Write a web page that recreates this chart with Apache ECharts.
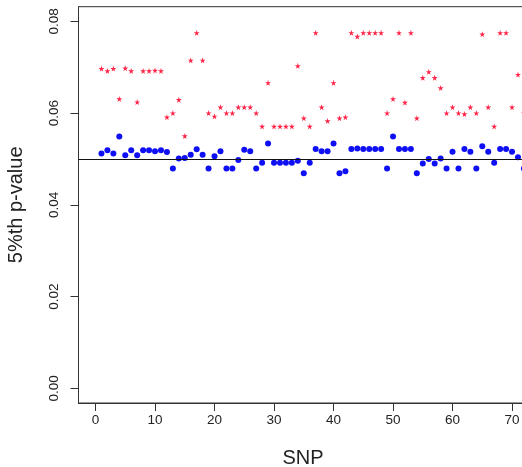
<!DOCTYPE html>
<html>
<head>
<meta charset="utf-8">
<script src="https://cdn.jsdelivr.net/npm/echarts@6/dist/echarts.min.js"></script>
<style>
  html, body { margin: 0; padding: 0; background: #fff; }
  #chart { width: 522px; height: 467px; }
</style>
</head>
<body>
<div id="chart"></div>
<script>
// 5%th p-value per SNP (index 0 -> SNP 1)
var bluePvals = [
  0.0512, 0.0519, 0.0512, 0.0549, 0.0508, 0.0519, 0.0508, 0.0519, 0.0519, 0.0517,
  0.0519, 0.0515, 0.0479, 0.0501, 0.0502, 0.0509, 0.0521, 0.0509, 0.0479, 0.0506,
  0.0517, 0.0479, 0.0479, 0.0498, 0.0520, 0.0517, 0.0479, 0.0492, 0.0534, 0.0492,
  0.0492, 0.0492, 0.0492, 0.0496, 0.0469, 0.0492, 0.0522, 0.0517, 0.0517, 0.0534,
  0.0469, 0.0473, 0.0522, 0.0523, 0.0522, 0.0522, 0.0522, 0.0522, 0.0479, 0.0549,
  0.0522, 0.0522, 0.0522, 0.0469, 0.0490, 0.0500, 0.0490, 0.0501, 0.0479, 0.0516,
  0.0479, 0.0522, 0.0516, 0.0479, 0.0528, 0.0516, 0.0492, 0.0522, 0.0522, 0.0516,
  0.0504, 0.0479
]
var redPvals = [
  0.0697, 0.0692, 0.0697, 0.0631, 0.0698, 0.0692, 0.0624, 0.0692, 0.0692, 0.0693,
  0.0692, 0.0591, 0.0600, 0.0629, 0.0550, 0.0715, 0.0775, 0.0715, 0.0600, 0.0593,
  0.0613, 0.0600, 0.0600, 0.0613, 0.0613, 0.0613, 0.0600, 0.0571, 0.0666, 0.0571,
  0.0571, 0.0571, 0.0571, 0.0703, 0.0589, 0.0571, 0.0775, 0.0613, 0.0583, 0.0666,
  0.0589, 0.0591, 0.0775, 0.0767, 0.0775, 0.0775, 0.0775, 0.0775, 0.0600, 0.0631,
  0.0775, 0.0623, 0.0775, 0.0589, 0.0677, 0.0690, 0.0677, 0.0655, 0.0600, 0.0613,
  0.0600, 0.0598, 0.0613, 0.0600, 0.0772, 0.0613, 0.0571, 0.0775, 0.0775, 0.0613,
  0.0684, 0.0600
]
var xTicks = [0, 10, 20, 30, 40, 50, 60, 70]
var yTicks = [0, 0.02, 0.04, 0.06, 0.08]
var cutoff = 0.05

var font = 'Liberation Sans, Arial, Helvetica, sans-serif'
var starPath = 'path://M50,0 L61,35 L98,35 L68,57 L79,91 L50,70 L21,91 L32,57 L2,35 L39,35 Z'

function toPoints(arr) {
  return arr.map(function (v, i) { return [i + 1, v] })
}

var chart = echarts.init(document.getElementById('chart'))
chart.setOption({
  backgroundColor: '#fff',
  animation: false,
  grid: {
    left: 78.5,
    top: 6.7,
    width: 449,
    height: 396.3,
    outerBoundsMode: 'none',
    containLabel: false,
    show: true,
    borderColor: '#333',
    borderWidth: 1
  },
  xAxis: {
    type: 'value',
    min: -2.86,
    max: 72.6,
    name: 'SNP',
    nameLocation: 'middle',
    nameGap: 45,
    nameTextStyle: { fontFamily: font, fontSize: 20, color: '#222' },
    axisLine: { onZero: false, lineStyle: { color: '#333', width: 1 } },
    axisTick: { customValues: xTicks, length: 8, lineStyle: { color: '#333' } },
    axisLabel: { customValues: xTicks, margin: 10, fontFamily: font, fontSize: 13.5, color: '#222' },
    splitLine: { show: false }
  },
  yAxis: {
    type: 'value',
    min: -0.0032,
    max: 0.0832,
    name: '5%th p-value',
    nameLocation: 'middle',
    nameGap: 52,
    nameTextStyle: { fontFamily: font, fontSize: 20, color: '#222' },
    axisLine: { show: true, onZero: false, lineStyle: { color: '#333', width: 1 } },
    axisTick: { show: true, customValues: yTicks, length: 8, lineStyle: { color: '#333' } },
    axisLabel: {
      customValues: yTicks,
      rotate: 90,
      margin: 17,
      fontFamily: font,
      fontSize: 13.5,
      color: '#222',
      formatter: function (v) { return v.toFixed(2) }
    },
    splitLine: { show: false }
  },
  series: [
    {
      type: 'scatter',
      data: toPoints(bluePvals),
      symbol: 'circle',
      symbolSize: 6,
      itemStyle: { color: '#0f0ff5', opacity: 1 },
      markLine: {
        silent: true,
        symbol: 'none',
        label: { show: false },
        lineStyle: { color: '#111', width: 1, type: 'solid' },
        data: [{ yAxis: cutoff }]
      }
    },
    {
      type: 'scatter',
      data: toPoints(redPvals),
      symbol: starPath,
      symbolSize: 6,
      itemStyle: { color: '#ff2448', opacity: 1 }
    }
  ]
})
</script>
</body>
</html>
